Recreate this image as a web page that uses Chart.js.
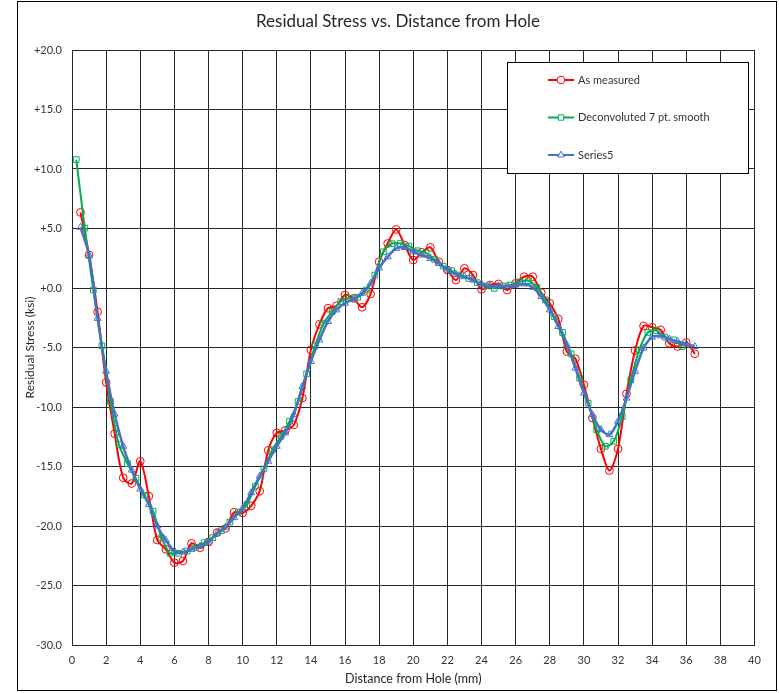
<!DOCTYPE html>
<html>
<head>
<meta charset="utf-8">
<title>Residual Stress vs. Distance from Hole</title>
<script src="https://cdn.jsdelivr.net/npm/chart.js@4.4.1/dist/chart.umd.min.js"></script>
<style>
    html, body { margin: 0; padding: 0; background: #ffffff; }
    #wrap { width: 779px; height: 693px; }
</style>
</head>
<body>
<div id="wrap"><canvas id="stressChart" width="779" height="693"></canvas></div>
<script>
// Data (distance in mm, stress in ksi)
const measuredX = [0.5, 1.0, 1.5, 2.0, 2.5, 3.0, 3.5, 4.0, 4.5, 5.0, 5.5, 6.0, 6.5, 7.0, 7.5, 8.0, 8.5, 9.0, 9.5, 10.0,
    10.5, 11.0, 11.5, 12.0, 12.5, 13.0, 13.5, 14.0, 14.5, 15.0, 15.5, 16.0, 16.5, 17.0, 17.5, 18.0, 18.5, 19.0, 19.5, 20.0,
    20.5, 21.0, 21.5, 22.0, 22.5, 23.0, 23.5, 24.0, 24.5, 25.0, 25.5, 26.0, 26.5, 27.0, 27.5, 28.0, 28.5, 29.0, 29.5, 30.0,
    30.5, 31.0, 31.5, 32.0, 32.5, 33.0, 33.5, 34.0, 34.5, 35.0, 35.5, 36.0, 36.5];
const measuredY = [6.35, 2.78, -2.0, -7.94, -12.24, -15.95, -16.43, -14.56, -17.49, -21.18, -21.96, -23.08, -22.94, -21.46, -21.82, -21.35, -20.56, -20.2, -18.85, -18.9,
    -18.3, -17.07, -13.64, -12.18, -11.96, -11.5, -9.25, -5.2, -3.05, -1.7, -1.5, -0.59, -0.87, -1.62, -0.5, 2.2, 3.74, 4.92, 3.6, 2.35,
    3.0, 3.41, 2.2, 1.51, 0.67, 1.65, 1.09, -0.11, 0.25, 0.34, -0.17, 0.39, 0.95, 0.95, -0.39, -1.28, -2.6, -5.34, -5.95, -8.13,
    -10.92, -13.52, -15.34, -13.52, -8.89, -5.25, -3.19, -3.3, -3.52, -4.64, -4.92, -4.58, -5.53];

const smoothX = [0.25, 0.75, 1.25, 1.75, 2.25, 2.75, 3.25, 3.75, 4.25, 4.75, 5.25, 5.75, 6.25, 6.75, 7.25, 7.75, 8.25, 8.75, 9.25, 9.75,
    10.25, 10.75, 11.25, 11.75, 12.25, 12.75, 13.25, 13.75, 14.25, 14.75, 15.25, 15.75, 16.25, 16.75, 17.25, 17.75, 18.25, 18.75, 19.25, 19.75,
    20.25, 20.75, 21.25, 21.75, 22.25, 22.75, 23.25, 23.75, 24.25, 24.75, 25.25, 25.75, 26.25, 26.75, 27.25, 27.75, 28.25, 28.75, 29.25, 29.75,
    30.25, 30.75, 31.25, 31.75, 32.25, 32.75, 33.25, 33.75, 34.25, 34.75, 35.25, 35.75];
const smoothY = [10.79, 5.03, -0.17, -4.86, -9.53, -13.16, -14.75, -16.0, -17.41, -18.75, -20.98, -22.3, -22.3, -22.1, -21.8, -21.4, -20.98, -20.4, -19.67, -18.83,
    -18.19, -16.65, -15.2, -13.58, -12.46, -11.2, -9.53, -7.21, -4.86, -2.96, -1.98, -1.15, -0.87, -0.78, -0.17, 1.09, 3.04, 3.72, 3.74, 3.52,
    3.13, 2.96, 2.4, 1.84, 1.45, 1.09, 0.81, 0.45, 0.17, -0.03, 0.17, 0.25, 0.53, 0.61, 0.06, -1.0, -2.4, -3.74, -5.53, -7.57,
    -9.67, -11.9, -13.3, -12.88, -10.79, -7.71, -5.2, -3.74, -3.58, -4.13, -4.36, -4.92];

const series5X = measuredX;
const series5Y = [5.1, 2.75, -2.55, -7.0, -10.6, -13.3, -15.3, -16.9, -18.2, -20.0, -21.2, -22.1, -22.2, -21.96, -21.7, -21.35, -20.6, -20.1, -19.3, -18.5,
    -17.2, -15.8, -14.56, -13.3, -12.18, -10.65, -8.27, -6.18, -4.36, -2.82, -1.84, -1.28, -0.95, -0.44, 0.39, 1.7, 2.62, 3.33, 3.4, 3.04,
    2.77, 2.49, 2.07, 1.51, 1.17, 0.95, 0.67, 0.34, 0.17, 0.17, 0.17, 0.25, 0.34, 0.06, -0.73, -1.84, -3.24, -4.8, -6.73, -8.83,
    -10.65, -11.9, -12.32, -11.2, -9.25, -7.0, -5.05, -4.13, -4.02, -4.3, -4.5, -4.69, -4.92];

const chartTitle = "Residual Stress vs. Distance from Hole";
const seriesNames = ["As measured", "Deconvoluted 7 pt. smooth", "Series5"];
const seriesColors = ["#ff0000", "#00b050", "#4472c4"];
const seriesMarkers = ["circle", "rect", "triangle"];

const FONT = "Lato, 'Open Sans', sans-serif";

function toPoints(xs, ys) {
    return xs.map((x, i) => ({ x: x, y: ys[i] }));
}

// White page, thin outer frame and the title centred on the frame
const framePlugin = {
    id: "frame",
    beforeDraw(chart) {
        const ctx = chart.ctx;
        ctx.save();
        ctx.fillStyle = "#ffffff";
        ctx.fillRect(0, 0, chart.width, chart.height);
        ctx.strokeStyle = "#000000";
        ctx.lineWidth = 1;
        ctx.strokeRect(17.5, 1.5, 759, 689);

        ctx.fillStyle = "#262626";
        ctx.font = "17px " + FONT;
        ctx.textAlign = "center";
        ctx.textBaseline = "middle";
        ctx.fillText(chartTitle, 398, 22);
        ctx.restore();
    }
};

// Legend box inside the plot, top right
const boxLegendPlugin = {
    id: "boxLegend",
    afterDatasetsDraw(chart) {
        const ctx = chart.ctx;
        const left = 507.5, top = 62.5, w = 241, h = 111;
        ctx.save();
        ctx.fillStyle = "#ffffff";
        ctx.fillRect(left, top, w, h);
        ctx.strokeStyle = "#000000";
        ctx.lineWidth = 1;
        ctx.strokeRect(left, top, w, h);

        const rows = [80, 117.5, 155];
        chart.data.datasets.forEach((ds, i) => {
            const y = rows[i];
            ctx.strokeStyle = ds.borderColor;
            ctx.lineWidth = 2;
            ctx.beginPath();
            ctx.moveTo(548, y);
            ctx.lineTo(574, y);
            ctx.stroke();
            // hollow marker on top of the sample line
            ctx.lineWidth = 1;
            ctx.fillStyle = "#ffffff";
            Chart.helpers.drawPoint(ctx, { pointStyle: seriesMarkers[i], radius: 3.8, borderWidth: 1 }, 561, y);
            ctx.fillStyle = "#333333";
            ctx.font = "11px " + FONT;
            ctx.textBaseline = "middle";
            ctx.textAlign = "left";
            ctx.fillText(ds.label, 578, y);
        });
        ctx.restore();
    }
};

const ctx = document.getElementById("stressChart").getContext("2d");

new Chart(ctx, {
    type: "line",
    data: {
        datasets: [
            {
                label: seriesNames[0],
                data: toPoints(measuredX, measuredY),
                borderColor: seriesColors[0],
                borderWidth: 2,
                pointStyle: seriesMarkers[0],
                pointRadius: 3.9,
                pointBorderWidth: 1,
                pointBackgroundColor: "rgba(255,255,255,0)",
                pointBorderColor: seriesColors[0],
                tension: 0.3,
                order: 3
            },
            {
                label: seriesNames[1],
                data: toPoints(smoothX, smoothY),
                borderColor: seriesColors[1],
                borderWidth: 2,
                pointStyle: seriesMarkers[1],
                pointRadius: 4,
                pointBorderWidth: 1,
                pointBackgroundColor: "rgba(255,255,255,0)",
                pointBorderColor: seriesColors[1],
                tension: 0.3,
                order: 2
            },
            {
                label: seriesNames[2],
                data: toPoints(series5X, series5Y),
                borderColor: seriesColors[2],
                borderWidth: 2.5,
                pointStyle: seriesMarkers[2],
                pointRadius: 4,
                pointBorderWidth: 1,
                pointBackgroundColor: "rgba(255,255,255,0)",
                pointBorderColor: seriesColors[2],
                tension: 0.3,
                order: 1
            }
        ]
    },
    options: {
        responsive: false,
        animation: false,
        events: [],
        layout: { padding: { left: 18, right: 24.5, top: 50, bottom: 0 } },
        plugins: {
            legend: { display: false },
            tooltip: { enabled: false },
            title: { display: false }
        },
        scales: {
            x: {
                type: "linear",
                min: 0,
                max: 40,
                afterFit(scale) { scale.height = 48; },
                ticks: {
                    stepSize: 2,
                    padding: 9,
                    color: "#333333",
                    font: { family: FONT, size: 11 }
                },
                grid: { color: "#262626", lineWidth: 1, drawTicks: false },
                border: { color: "#262626", width: 1 },
                title: {
                    display: true,
                    text: "Distance from Hole (mm)",
                    color: "#262626",
                    font: { family: FONT, size: 12.5 },
                    padding: { top: 0, bottom: 7 }
                }
            },
            y: {
                min: -30,
                max: 20,
                afterFit(scale) { scale.width = 54; },
                ticks: {
                    stepSize: 5,
                    padding: 10,
                    color: "#333333",
                    font: { family: FONT, size: 11 },
                    callback: v => (v >= 0 ? "+" : "") + Number(v).toFixed(1)
                },
                grid: { color: "#262626", lineWidth: 1, drawTicks: false },
                border: { color: "#262626", width: 1 },
                title: {
                    display: true,
                    text: "Residual Stress (ksi)",
                    color: "#262626",
                    font: { family: FONT, size: 12 },
                    padding: { top: 5, bottom: 0 }
                }
            }
        }
    },
    plugins: [framePlugin, boxLegendPlugin]
});
</script>
</body>
</html>
